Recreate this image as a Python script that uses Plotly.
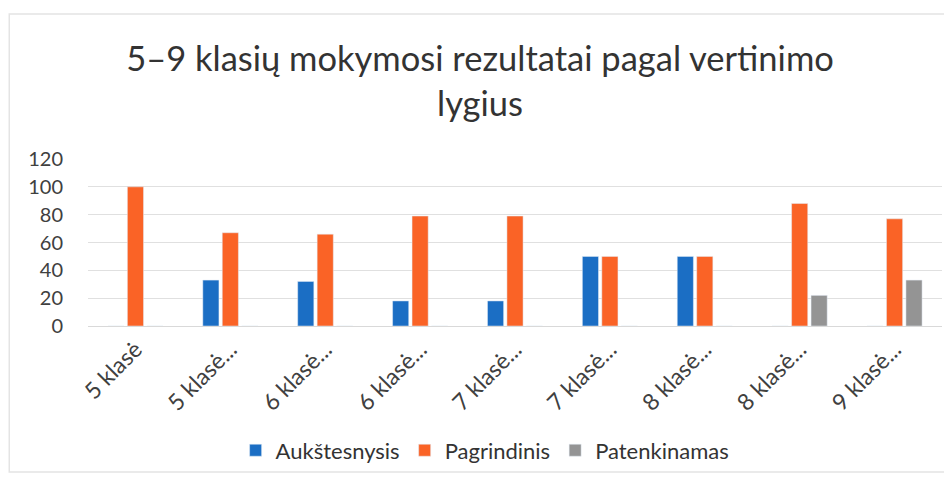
import plotly.graph_objects as go

categories = ["5 klasė", "5 klasė...", "6 klasė...", "6 klasė...", "7 klasė...",
              "7 klasė...", "8 klasė...", "8 klasė...", "9 klasė..."]
aukstesnysis = [0, 33, 32, 18, 18, 50, 50, 0, 0]
pagrindinis = [100, 67, 66, 79, 79, 50, 50, 88, 77]
patenkinamas = [0, 0, 0, 0, 0, 0, 0, 22, 33]
y_ticks = [0, 20, 40, 60, 80, 100, 120]

x = list(range(len(categories)))
FONT = "Lato"

fig = go.Figure()
fig.add_bar(x=x, y=aukstesnysis, name="Aukštesnysis", marker_color="#1b6ec4")
fig.add_bar(x=x, y=pagrindinis, name="Pagrindinis", marker_color="#fa6326")
fig.add_bar(x=x, y=patenkinamas, name="Patenkinamas", marker_color="#949494")

# page body has an 8px margin, so the figure is 944x476 and offset by 8px
fig.update_layout(
    width=944, height=476,
    margin=dict(l=80, r=10, t=151, b=158, autoexpand=False),
    paper_bgcolor="white", plot_bgcolor="white",
    barmode="group", bargap=0.385, bargroupgap=0.17,
    font=dict(family=FONT, color="#404040"),
    title=dict(text="5–9 klasių mokymosi rezultatai pagal vertinimo<br>lygius",
               x=0.5, xanchor="center", y=0.868, yanchor="middle",
               font=dict(family=FONT, size=34.5, color="#333333"), automargin=False),
    legend=dict(orientation="h", x=0.465, xanchor="center", y=-0.745, yanchor="middle",
                font=dict(family=FONT, size=22, color="#333333"),
                itemwidth=30, traceorder="normal"),
    xaxis=dict(tickmode="array", tickvals=x, ticktext=categories, tickangle=-45,
               range=[-0.5, len(categories) - 0.5], automargin=False,
               tickfont=dict(family=FONT, size=23, color="#404040"),
               showgrid=False, showline=True, linecolor="#d9d9d9", ticks=""),
    yaxis=dict(range=[0, 120], tickvals=y_ticks, automargin=False,
               tickfont=dict(family=FONT, size=20, color="#404040"),
               showgrid=True, gridcolor="#e0e0e0", zeroline=False, ticks="",
               ticklabelstandoff=24),
)
fig.add_shape(type="rect", xref="paper", yref="paper",
              x0=-78 / 846, x1=1 + 4 / 846, y0=-146 / 167, y1=1 + 145 / 167,
              line=dict(color="#e4e4e4", width=1.5), fillcolor="rgba(0,0,0,0)")

fig.write_html("out.html")
